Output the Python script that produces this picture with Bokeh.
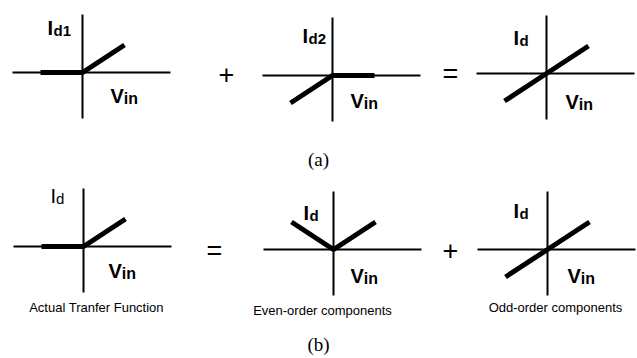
from bokeh.plotting import figure
from bokeh.models import Range1d
from bokeh.core.properties import value
from bokeh.embed import file_html
from bokeh.resources import INLINE

W, H = 637, 358

# Normalised transfer characteristics: drain current vs. input voltage
vin = [-1.0, 0.0, 1.0]
id1 = [0.0, 0.0, 1.0]        # device 1 conducts for positive input
id2 = [-1.0, 0.0, 0.0]       # device 2 conducts for negative input
id_sum = [-1.0, 0.0, 1.0]    # differential output current
id_actual = [0.0, 0.0, 1.0]  # actual (half-wave) transfer function
id_even = [1.0, 0.0, 1.0]    # even-order part
id_odd = [-1.0, 0.0, 1.0]    # odd-order part

curves = [id1, id2, id_sum, id_actual, id_even, id_odd]
current_subs = ["d1", "d2", "d", "d", "d", "d"]
current_bold = [True, True, True, False, True, True]
captions = ["Actual Tranfer Function", "Even-order components", "Odd-order components"]
part_labels = ["(a)", "(b)"]
row_ops = [["+", "="], ["=", "+"]]

# panel layout: origin (px), I-label offset, V-label offset
panels = [
    dict(o=(82, 72), il=(-35, -45), vl=(28, 23)),
    dict(o=(332, 75), il=(-30, -40), vl=(18, 25)),
    dict(o=(546, 73), il=(-33, -36), vl=(19, 28)),
    dict(o=(83, 246), il=(-33, -51), vl=(25, 24)),
    dict(o=(333, 249), il=(-30, -37), vl=(17, 26)),
    dict(o=(547, 249), il=(-34, -39), vl=(20, 26)),
]
SX, SY = 42.0, 27.5           # px per normalised unit
AX_L, AX_R, AX_T, AX_B = 70, 88, 58, 46

p = figure(width=W, height=H, x_range=Range1d(0, W), y_range=Range1d(H, 0),
           x_axis_type=None, y_axis_type=None, toolbar_location=None,
           output_backend="svg", min_border=0)
p.grid.visible = False
p.outline_line_color = None
p.background_fill_color = "white"
p.border_fill_color = "white"

SANS = value("Liberation Sans")
SERIF = value("Liberation Serif")

for pan, curve, sub, bold in zip(panels, curves, current_subs, current_bold):
    ox, oy = pan["o"]
    # coordinate axes
    p.segment(x0=[ox - AX_L, ox], y0=[oy, oy - AX_T], x1=[ox + AX_R, ox], y1=[oy, oy + AX_B],
              line_color="black", line_width=2)
    # transfer characteristic
    xs = [ox + SX * v for v in vin]
    ys = [oy - SY * c for c in curve]
    p.line(xs, ys, line_color="black", line_width=5, line_join="miter", line_cap="butt")
    # axis labels
    style = "bold" if bold else "normal"
    ix, iy = ox + pan["il"][0], oy + pan["il"][1]
    p.text(x=[ix], y=[iy], text=["I"], text_font=SANS, text_font_style=style,
           text_font_size="20px", text_baseline="alphabetic", text_align="left")
    p.text(x=[ix + (6 if bold else 5.5)], y=[iy + 3], text=[sub], text_font=SANS,
           text_font_style=style, text_font_size="15px", text_baseline="alphabetic",
           text_align="left")
    vx, vy = ox + pan["vl"][0], oy + pan["vl"][1]
    p.text(x=[vx], y=[vy], text=["V"], text_font=SANS, text_font_style="bold",
           text_font_size="20px", text_baseline="alphabetic", text_align="left")
    p.text(x=[vx + 13.3], y=[vy + 3], text=["in"], text_font=SANS, text_font_style="bold",
           text_font_size="16px", text_baseline="alphabetic", text_align="left")

# operators between panels
op_x = [226, 450, 214, 450]
op_y = [74, 73, 250, 250]
ops = row_ops[0] + row_ops[1]
p.text(x=op_x, y=op_y, text=ops, text_font=SANS, text_font_size="27px",
       text_baseline="middle", text_align="center")

# captions under row (b)
p.text(x=[96, 322, 555], y=[307, 310, 307], text=captions, text_font=SANS,
       text_font_size="13px", text_baseline="alphabetic", text_align="center")

# sub-figure labels
p.text(x=[318, 318], y=[159, 344], text=part_labels, text_font=SERIF,
       text_font_size="19px", text_baseline="alphabetic", text_align="center")

open("out.html", "w").write(file_html(p, INLINE))
